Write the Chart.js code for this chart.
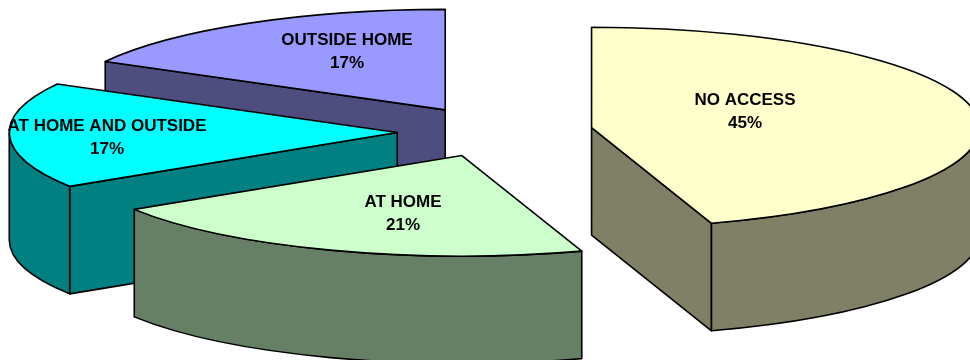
<!DOCTYPE html>
<html>
<head>
<meta charset="utf-8">
<style>
    html, body { margin: 0; padding: 0; background: #fff; }
    canvas { display: block; }
</style>
<script src="https://cdn.jsdelivr.net/npm/chart.js@4"></script>
</head>
<body>
<canvas id="myChart" width="970" height="360"></canvas>
<script>
    const categories = ['NO ACCESS', 'AT HOME', 'AT HOME AND OUTSIDE', 'OUTSIDE HOME'];
    const shares = [45, 21, 17, 17];
    const topColors = ['#FFFFCC', '#CCFFCC', '#00FFFF', '#9999FF'];
    const wallColors = ['#808066', '#668066', '#008080', '#4D4D80'];

    // pie shape on the page
    const radiusX = 388;
    const radiusY = 100.5;
    const depth = 107.5;
    const explode = 0.252;
    const centerX = 495;
    const centerY = 131.7;

    // centre of the first label line for each slice
    const labelAnchors = [[745, 100], [403, 202], [107, 126], [347, 40]];

    function sliceOrigin(arc) {
        const mid = (arc.startAngle + arc.endAngle) / 2;
        return {
            x: centerX + explode * radiusX * Math.cos(mid),
            y: centerY + explode * radiusY * Math.sin(mid)
        };
    }

    function paintFace(ctx, color, trace) {
        ctx.beginPath();
        trace();
        ctx.closePath();
        ctx.fillStyle = color;
        ctx.fill();
        ctx.stroke();
    }

    // Radial cut face, only called for the cuts turned towards the viewer
    function paintCut(ctx, o, angle, color) {
        const x = o.x + radiusX * Math.cos(angle);
        const y = o.y + radiusY * Math.sin(angle);
        paintFace(ctx, color, function() {
            ctx.moveTo(o.x, o.y);
            ctx.lineTo(x, y);
            ctx.lineTo(x, y + depth);
            ctx.lineTo(o.x, o.y + depth);
        });
    }

    function paintSlice(chart, arc, i) {
        const ctx = chart.ctx;
        const o = sliceOrigin(arc);
        const color = wallColors[i];

        ctx.lineWidth = 1.6;
        ctx.strokeStyle = '#000';
        ctx.lineJoin = 'round';

        if (Math.cos(arc.startAngle) < -1e-6) paintCut(ctx, o, arc.startAngle, color);
        if (Math.cos(arc.endAngle) > 1e-6) paintCut(ctx, o, arc.endAngle, color);

        // rim, front half of the ellipse only
        const from = Math.max(arc.startAngle, 0);
        const to = Math.min(arc.endAngle, Math.PI);
        if (to > from) {
            paintFace(ctx, color, function() {
                ctx.ellipse(o.x, o.y, radiusX, radiusY, 0, from, to);
                ctx.ellipse(o.x, o.y + depth, radiusX, radiusY, 0, to, from, true);
            });
        }

        // top face is the library's own arc, squashed into place
        ctx.save();
        ctx.translate(o.x, o.y);
        ctx.scale(radiusX / arc.outerRadius, radiusY / arc.outerRadius);
        ctx.translate(-arc.x, -arc.y);
        arc.draw(ctx);
        ctx.restore();

        ctx.beginPath();
        ctx.moveTo(o.x, o.y);
        ctx.ellipse(o.x, o.y, radiusX, radiusY, 0, arc.startAngle, arc.endAngle);
        ctx.closePath();
        ctx.stroke();
    }

    const tiltedPie = {
        id: 'tiltedPie',
        beforeDatasetDraw: function(chart) {
            const arcs = chart.getDatasetMeta(0).data;
            // back to front
            for (let i = arcs.length - 1; i >= 0; i--) {
                paintSlice(chart, arcs[i], i);
            }
            return false;
        },
        afterDatasetsDraw: function(chart) {
            const ctx = chart.ctx;
            ctx.save();
            ctx.font = 'bold 17px "Liberation Sans", Arial, sans-serif';
            ctx.fillStyle = '#000';
            ctx.textAlign = 'center';
            ctx.textBaseline = 'middle';
            categories.forEach(function(name, i) {
                const a = labelAnchors[i];
                ctx.fillText(name, a[0], a[1]);
                ctx.fillText(shares[i] + '%', a[0], a[1] + 23);
            });
            ctx.restore();
        }
    };

    new Chart(document.getElementById('myChart'), {
        type: 'pie',
        data: {
            labels: categories,
            datasets: [{
                data: shares,
                backgroundColor: topColors,
                borderWidth: 0
            }]
        },
        options: {
            responsive: false,
            animation: false,
            radius: radiusX,
            plugins: {
                legend: { display: false },
                tooltip: { enabled: false }
            }
        },
        plugins: [tiltedPie]
    });
</script>
</body>
</html>
